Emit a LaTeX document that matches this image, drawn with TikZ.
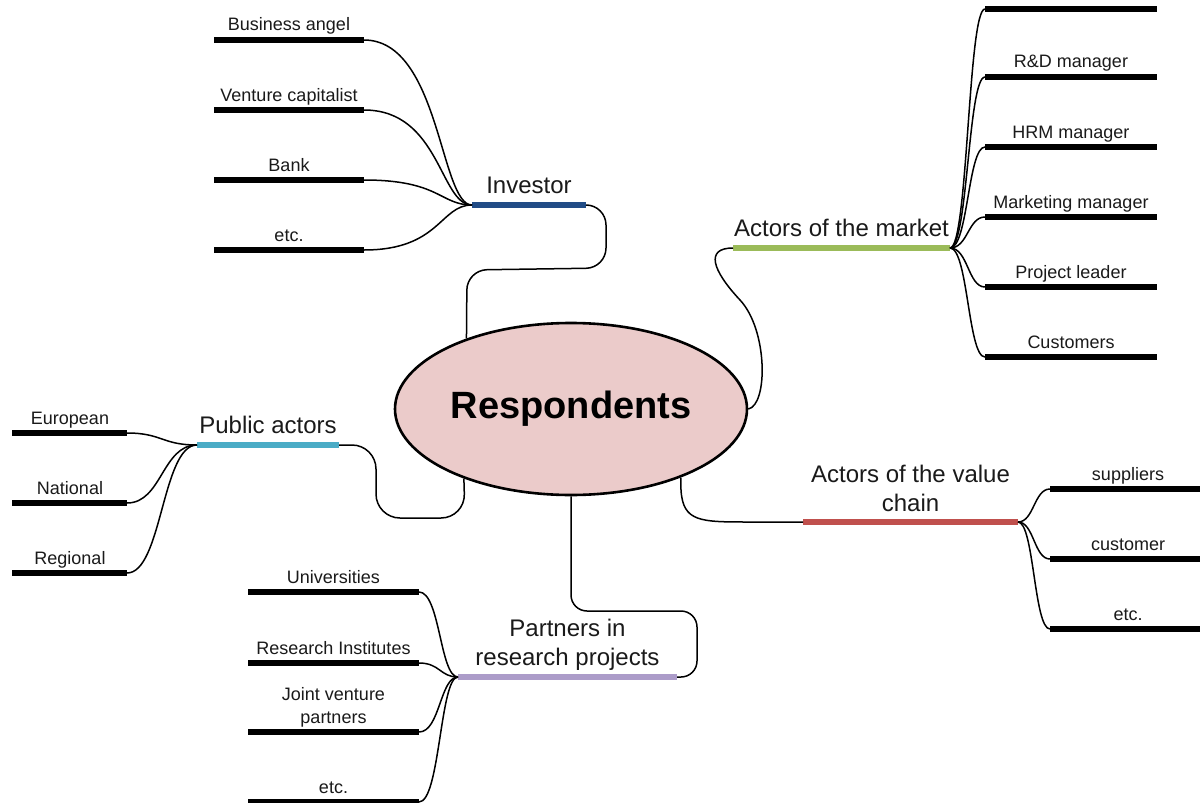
\documentclass[tikz,border=0pt]{standalone}
\usepackage{fontspec}
\setmainfont{Liberation Sans}
\usetikzlibrary{shapes.geometric}
\definecolor{invblue}{HTML}{214C86}
\definecolor{mktgreen}{HTML}{9BBB59}
\definecolor{pubcyan}{HTML}{4BACC6}
\definecolor{chainred}{HTML}{C0504D}
\definecolor{partpurple}{HTML}{AC9CC9}
\definecolor{rootfill}{HTML}{EBCBCA}
\definecolor{ink}{HTML}{1A1A1A}

\begin{document}
\begin{tikzpicture}[x=0.5pt,y=-0.5pt,
  leaf/.style={rectangle, fill=black, inner sep=0pt, outer sep=0pt,
    minimum height=3.2pt, minimum width=#1},
  hub/.style 2 args={rectangle, fill=#1, inner sep=0pt, outer sep=0pt,
    minimum height=3pt, minimum width=#2},
  leaftext/.style={font=\fontsize{9}{11.5}\selectfont, text=ink,
    anchor=base, inner sep=0pt, align=center},
  hubtext/.style={font=\fontsize{12}{14.5}\selectfont, text=ink,
    anchor=base, inner sep=0pt, align=center},
  link/.style={draw=black, line width=0.75pt},
]
\useasboundingbox (0,0) rectangle (1200,803);
\fill[white] (0,0) rectangle (1200,803);
\clip (0,0) rectangle (1200,803);

% central topic
\node[ellipse, draw=black, line width=1.3pt, fill=rootfill, inner sep=0pt,
  minimum width=176pt, minimum height=86pt,
  font=\fontsize{19}{23}\selectfont\bfseries] (root) at (571,409) {Respondents};

% main branches
\node[hub={invblue}{57pt}]      (inv)   at (529,205) {};
\node[hub={mktgreen}{108.5pt}]  (mkt)   at (841.5,248) {};
\node[hub={pubcyan}{71pt}]      (pub)   at (268,445) {};
\node[hub={chainred}{107.5pt}]  (chain) at (910.5,522) {};
\node[hub={partpurple}{109.5pt}](part)  at (567.5,677) {};

\node[hubtext] (t-inv)   at (529,193) {Investor};
\node[hubtext] (t-mkt)   at (841.5,236) {Actors of the market};
\node[hubtext] (t-pub)   at (268,433) {Public actors};
\node[hubtext] (t-chain) at (910.5,511) {Actors of the value\\chain};
\node[hubtext] (t-part)  at (567.5,665) {Partners in\\research projects};

% links from the central topic to the branches
\draw[link, rounded corners=10pt] (inv.east) -- (606,205) -- (606,268)
  -- (467,270) -- (root.146.3);
\draw[link] (root.east) .. controls (768,405) and (768,330) .. (740,300)
  .. controls (712,270) and (705,248) .. (mkt.west);
\draw[link, rounded corners=12pt] (pub.east) -- (376,445) -- (376,518)
  -- (465,518) -- (root.213);
\draw[link] (root.328.6) -- (681,490) .. controls (683,522) and (700,522)
  .. (750,522) -- (chain.west);
\draw[link, rounded corners=8pt] (root.south) -- (571,611) -- (697,611)
  -- (697,677) -- (part.east);

% Investor leaves
\foreach \n/\y/\t in {1/40/Business angel, 2/110/Venture capitalist,
                      3/180/Bank, 4/250/etc.}{
  \node[leaf=75pt] (la\n) at (289,\y) {};
  \node[leaftext] (t-la\n) at (289,\y-9) {\t};
  \draw[link] (inv.west) .. controls ([xshift=-16pt]inv.west)
    and ([xshift=38pt]la\n.east) .. (la\n.east);
}

% market leaves
\node[leaf=86pt] (lm0) at (1071,9) {};
\draw[link] (mkt.east) .. controls ([xshift=9pt]mkt.east)
  and ([xshift=-8.5pt]lm0.west) .. (lm0.west);
\foreach \n/\y/\t in {1/77/R\&D manager, 2/147/HRM manager,
                      3/217/Marketing manager, 4/287/Project leader,
                      5/357/Customers}{
  \node[leaf=86pt] (lm\n) at (1071,\y) {};
  \node[leaftext] (t-lm\n) at (1071,\y-9) {\t};
  \draw[link] (mkt.east) .. controls ([xshift=9pt]mkt.east)
    and ([xshift=-8.5pt]lm\n.west) .. (lm\n.west);
}

% value chain leaves
\foreach \n/\y/\t in {1/489/suppliers, 2/559/customer, 3/629/etc.}{
  \node[leaf=80pt] (lc\n) at (1130,\y) {};
  \node[leaftext] (t-lc\n) at (1128,\y-9) {\t};
  \draw[link] (chain.east) .. controls ([xshift=8pt]chain.east)
    and ([xshift=-8pt]lc\n.west) .. (lc\n.west);
}

% public actors leaves
\foreach \n/\y/\t in {1/433/European, 2/503/National, 3/573/Regional}{
  \node[leaf=57.5pt] (lp\n) at (69.5,\y) {};
  \node[leaftext] (t-lp\n) at (70,\y-9) {\t};
  \draw[link] (pub.west) .. controls ([xshift=-17.5pt]pub.west)
    and ([xshift=17.5pt]lp\n.east) .. (lp\n.east);
}

% research partner leaves
\foreach \n/\y/\t in {1/592/Universities, 2/663/Research Institutes,
                      3/732/{Joint venture\\partners}, 4/802/etc.}{
  \node[leaf=85.5pt] (lr\n) at (333.5,\y) {};
  \node[leaftext] (t-lr\n) at (333.5,\y-9) {\t};
  \draw[link] (part.west) .. controls ([xshift=-9pt]part.west)
    and ([xshift=10.5pt]lr\n.east) .. (lr\n.east);
}
\end{tikzpicture}
\end{document}
